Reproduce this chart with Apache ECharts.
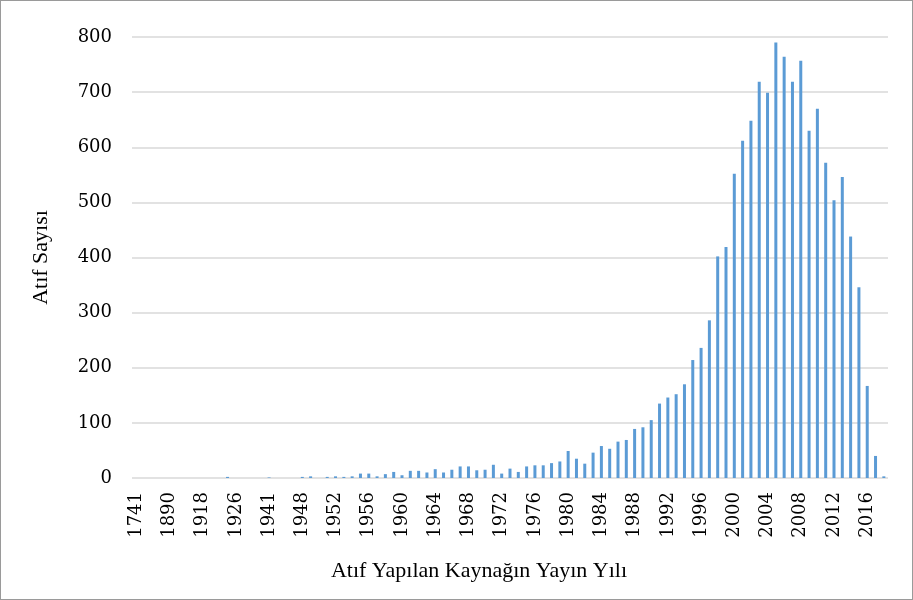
<!DOCTYPE html>
<html>
<head>
<meta charset="utf-8">
<script src="https://cdn.jsdelivr.net/npm/echarts@6/dist/echarts.min.js"></script>
<style>
html,body{margin:0;padding:0;background:#fff;}
#c{width:913px;height:600px;box-sizing:border-box;border:1px solid #9a9a9a;}
</style>
</head>
<body>
<div id="c"></div>
<script>
// Early (sparse) publication years, then consecutive years 1948-2018
const earlyYears = ['1741','1800','1850','1880','1890','1900','1905','1910','1918','1920','1922','1925','1926','1930','1935','1939','1941','1944','1946','1947'];
const earlyValues = [0,0,0,0,0,0,0,0,0,0,0,2,0,0,0,0,1,0,0,0];
const laterYears = [];
for (let y = 1948; y <= 2018; y++) laterYears.push(String(y));
const laterValues = [
  2,3,0,2,3,2,3,8,8,3,      // 1948-1957
  7,11,5,13,13,10,16,10,15,21, // 1958-1967
  21,14,15,24,8,17,11,21,23,23, // 1968-1977
  27,30,49,35,26,46,58,53,66,69, // 1978-1987
  89,92,105,135,146,152,170,214,236,286, // 1988-1997
  402,419,552,612,648,719,699,790,764,719, // 1998-2007
  757,630,670,572,504,546,438,346,167,40, // 2008-2017
  3 // 2018
];
const categories = earlyYears.concat(laterYears);
const values = earlyValues.concat(laterValues);
const xTitle = 'Atıf Yapılan Kaynağın Yayın Yılı';
const yTitle = 'Atıf Sayısı';

const chart = echarts.init(document.getElementById('c'), null, {renderer: 'canvas'});
chart.setOption({
  animation: false,
  backgroundColor: '#ffffff',
  grid: {left: 131, right: 24, top: 36, bottom: 121, containLabel: false},
  xAxis: {
    type: 'category',
    data: categories,
    name: xTitle,
    nameLocation: 'middle',
    nameGap: 82,
    nameTextStyle: {fontFamily: 'Liberation Serif', fontSize: 22, color: '#000', padding: [0, 62, 0, 0]},
    axisLine: {show: false},
    axisTick: {show: false},
    axisLabel: {
      interval: 3,
      rotate: 90,
      margin: 14,
      fontFamily: 'DejaVu Serif',
      fontSize: 18,
      color: '#000'
    }
  },
  yAxis: {
    type: 'value',
    min: 0,
    max: 800,
    interval: 100,
    name: yTitle,
    nameLocation: 'middle',
    nameGap: 80,
    nameRotate: 90,
    nameTextStyle: {fontFamily: 'Liberation Serif', fontSize: 22, color: '#000'},
    axisLine: {show: false},
    axisTick: {show: false},
    axisLabel: {margin: 20, fontFamily: 'DejaVu Serif', fontSize: 18, color: '#000'},
    splitLine: {lineStyle: {color: '#d9d9d9', width: 1.5}}
  },
  series: [{
    type: 'bar',
    data: values,
    barWidth: 3,
    itemStyle: {color: '#5b9bd5'}
  }]
});
</script>
</body>
</html>
